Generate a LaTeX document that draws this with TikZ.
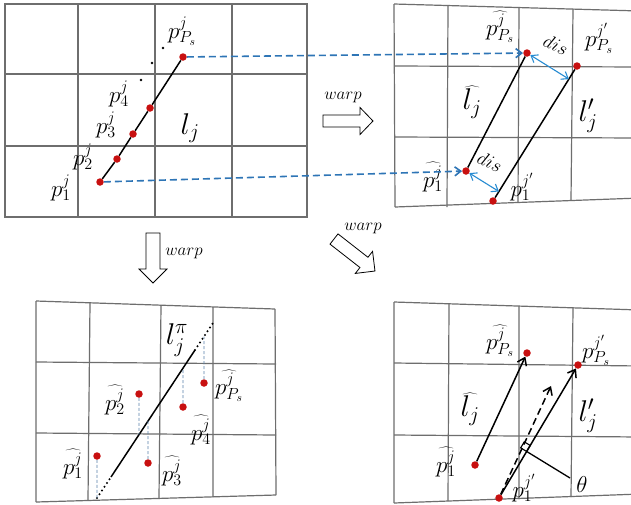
\RequirePackage{fix-cm}
\documentclass[tikz,border=0pt]{standalone}
\usetikzlibrary{calc,arrows.meta}
\definecolor{dotred}{RGB}{200,16,16}
\definecolor{arrblue}{RGB}{46,117,182}
\definecolor{disblue}{RGB}{40,140,210}
\definecolor{gridgray}{RGB}{110,110,110}
\definecolor{projblue}{RGB}{90,130,170}
\begin{document}
\begin{tikzpicture}[x=1pt,y=-1pt,
  gridline/.style={draw=gridgray,line width=1.2pt},
  rdot/.style={circle,fill=dotred,inner sep=0pt,minimum size=7.5pt},
  bdot/.style={circle,fill=black,inner sep=0pt,minimum size=2.6pt},
  plabel/.style={inner sep=0pt,font=\fontsize{23}{27}\selectfont},
  llabel/.style={inner sep=0pt,font=\fontsize{30}{34}\selectfont},
  wlabel/.style={inner sep=0pt,font=\fontsize{17}{20}\selectfont},
  dislabel/.style={inner sep=0pt,font=\fontsize{19}{22}\selectfont,rotate=-25},
  seg/.style={line width=1.5pt},
  bluedash/.style={draw=arrblue,line width=1.6pt,dash pattern=on 7pt off 4pt,-{Straight Barb[length=6pt,width=9pt]}},
  disarrow/.style={draw=disblue,line width=1.1pt,{Straight Barb[length=6pt,width=9pt]}-{Straight Barb[length=6pt,width=9pt]}},
  blockarrow/.style={draw=black,line width=0.8pt,fill=white,line join=miter},
  proj/.style={draw=projblue,line width=0.9pt,dash pattern=on 3pt off 2pt},
  dotext/.style={line width=2.2pt,dash pattern=on 0pt off 4.5pt,line cap=round},
  vec/.style={line width=1.5pt,-{Straight Barb[length=7pt,width=10pt]}},
  vecdash/.style={vec,dash pattern=on 7pt off 4pt},
]
\useasboundingbox (0,0) rectangle (631,504);
\fill[white] (0,0) rectangle (631,504);
\clip (0,0) rectangle (631,504);

% ---------- grids ----------
% top-left
\draw[gridline] (5,4) rectangle (307,217);
\draw[gridline] (78,4) -- (78,217) (155,4) -- (155,217) (232,4) -- (232,217);
\draw[gridline] (5,74) -- (307,74) (5,146) -- (307,146);
% top-right (warped)
\draw[gridline] (394,4) -- (640,11) (394,66) -- (640,67) (394,137) -- (640,138) (395,207) -- (640,198);
\draw[gridline] (394,4) -- (395,207) (448,6) -- (447,207) (519,8) -- (518,202) (573,9) -- (571,200);
% bottom-left (warped)
\draw[gridline] (36,301) -- (275,309) (36,362) -- (276,364) (36,433) -- (276,435) (36,502) -- (276,495);
\draw[gridline] (36,301) -- (36,502) (90,303) -- (88,500) (161,305) -- (159,498) (213,307) -- (213,497) (275,309) -- (276,495);
% bottom-right (warped)
\draw[gridline] (394,302) -- (640,310) (394,363) -- (640,366) (394,435) -- (640,437) (394,503) -- (640,494);
\draw[gridline] (394,302) -- (394,503) (449,304) -- (448,501) (519,306) -- (519,499) (573,308) -- (571,497);

% ---------- block arrows ----------
\begin{scope}[shift={(323,121)}]
  \draw[blockarrow] (0,-6) -- (37,-6) -- (37,-13.5) -- (50,0) -- (37,13.5) -- (37,6) -- (0,6) -- cycle;
\end{scope}
\begin{scope}[shift={(153,233)},rotate=-90]
  \draw[blockarrow] (0,-7) -- (36,-7) -- (36,-14) -- (50,0) -- (36,14) -- (36,7) -- (0,7) -- cycle;
\end{scope}
\begin{scope}[shift={(334,239)},rotate=-38]
  \draw[blockarrow] (0,-6.5) -- (38,-6.5) -- (38,-14) -- (52,0) -- (38,14) -- (38,6.5) -- (0,6.5) -- cycle;
\end{scope}
\node[wlabel] (w1) at (343,97) {$warp$};
\node[wlabel] (w2) at (184,253) {$warp$};
\node[wlabel] (w3) at (363,228) {$warp$};

% ---------- top-left ----------
\node[rdot] (tl1) at (100,182) {};
\node[rdot] (tl2) at (117,159) {};
\node[rdot] (tl3) at (133,134) {};
\node[rdot] (tl4) at (150,108) {};
\node[rdot] (tlPs) at (183,57) {};
\draw[seg] (tl1) -- (tl2) -- (tl3) -- (tl4) -- (tlPs);
\node[bdot] (e1) at (163,48) {};
\node[bdot] (e2) at (152,63) {};
\node[bdot] (e3) at (141,80) {};
\node[plabel] (tlLPs) at (182,31) {$p_{P_s}^j$};
\node[plabel] (tlL4) at (119,94) {$p_4^j$};
\node[plabel] (tlL3) at (106,125) {$p_3^j$};
\node[plabel] (tlL2) at (83,157) {$p_2^j$};
\node[plabel] (tlL1) at (61,188) {$p_1^j$};
\node[llabel] (tlLl) at (190,128) {$l_j$};

% ---------- top-right ----------
\node[rdot] (trh1) at (466,171) {};
\node[rdot] (trhPs) at (527,53) {};
\node[rdot] (trp1p) at (493,201) {};
\node[rdot] (trPsp) at (577,66) {};
\draw[seg] (trh1) -- (trhPs);
\draw[seg] (trp1p) -- (trPsp);
\draw[disarrow] (trhPs) -- ($(trp1p)!(trhPs)!(trPsp)$);
\draw[disarrow] (trh1) -- ($(trp1p)!(trh1)!(trPsp)$);
\node[plabel] (trLhPs) at (500,27) {$\widehat{p_{P_s}^j}$};
\node[plabel] (trLPsp) at (599,38) {$p_{P_s}^{j'}$};
\node[llabel] (trLhl) at (472,102) {$\widehat{l_j}$};
\node[llabel] (trLlp) at (588,116) {$l'_j$};
\node[plabel] (trLh1) at (433,177) {$\widehat{p_1^j}$};
\node[plabel] (trLp1p) at (522,187) {$p_1^{j'}$};
\node[dislabel] (dis1) at (556,45) {$dis$};
\node[dislabel] (dis2) at (490,162) {$dis$};

% blue dashed correspondences
\draw[bluedash] (tlPs) -- (trhPs);
\draw[bluedash] (tl1) -- (trh1);

% ---------- bottom-left ----------
\node[rdot] (bl1) at (97,456) {};
\node[rdot] (bl2) at (139,394) {};
\node[rdot] (bl3) at (148,463) {};
\node[rdot] (bl4) at (183,407) {};
\node[rdot] (blPs) at (204,383) {};
\coordinate (lA) at (97,498);
\coordinate (lB) at (111,477);
\coordinate (lC) at (195,350);
\coordinate (lD) at (213,323);
\draw[seg] (lB) -- (lC);
\draw[dotext] (lA) -- (lB);
\draw[dotext] (lC) -- (lD);
\foreach \n in {bl1,bl2,bl3,bl4,blPs}{
  \coordinate (\n v) at ($(\n)+(0,10)$);
  \draw[proj] (\n) -- (intersection of lA--lD and \n--\n v);
}
\node[llabel] (blLl) at (177,340) {$l_j^{\pi}$};
\node[plabel] (blL2) at (115,400) {$\widehat{p_2^j}$};
\node[plabel] (blLPs) at (229,386) {$\widehat{p_{P_s}^j}$};
\node[plabel] (blL4) at (201,430) {$\widehat{p_4^j}$};
\node[plabel] (blL1) at (73,464) {$\widehat{p_1^j}$};
\node[plabel] (blL3) at (172,471) {$\widehat{p_3^j}$};

% ---------- bottom-right ----------
\node[rdot] (brh1) at (475,465) {};
\node[rdot] (brhPs) at (527,353) {};
\node[rdot] (brp1p) at (499,498) {};
\node[rdot] (brPsp) at (578,365) {};
\draw[vec] (brh1) -- (brhPs);
\draw[vec] (brp1p) -- (brPsp);
\coordinate (brdash) at ($(brp1p)+(brhPs)-(brh1)$);
\draw[vecdash] (brp1p) -- (brdash);
\coordinate (foot) at ($(brp1p)!0.35!(brPsp)$);
\coordinate (thend) at (570,478);
\draw[line width=1.3pt] (foot) -- (thend);
\draw[line width=1.1pt] (foot) -- ++(3.6,-6.0) -- ++(-6.0,-3.6) -- ++(-3.6,6.0) -- cycle;
\node[plabel] (brth) at (582,485) {$\theta$};
\node[plabel] (brLhPs) at (500,341) {$\widehat{p_{P_s}^j}$};
\node[plabel] (brLPsp) at (596,350) {$p_{P_s}^{j'}$};
\node[llabel] (brLhl) at (470,409) {$\widehat{l_j}$};
\node[llabel] (brLlp) at (588,416) {$l'_j$};
\node[plabel] (brLh1) at (446,462) {$\widehat{p_1^j}$};
\node[plabel] (brLp1p) at (524,488) {$p_1^{j'}$};
\end{tikzpicture}
\end{document}
